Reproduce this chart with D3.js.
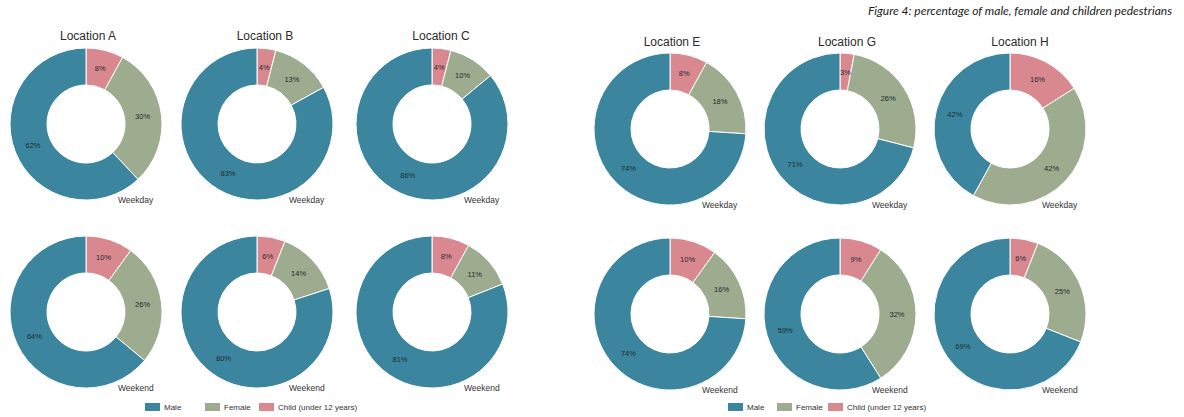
<!DOCTYPE html>
<html>
<head>
<meta charset="utf-8">
<script src="https://cdn.jsdelivr.net/npm/d3@7"></script>
<style>
  html, body { margin: 0; padding: 0; background: #ffffff; }
  svg { display: block; }
</style>
</head>
<body>
<svg id="chart" width="1184" height="417"></svg>
<script>
// Pedestrian composition per location, in percent
const locations = ["Location A", "Location B", "Location C", "Location E", "Location G", "Location H"];
const categories = ["Child (under 12 years)", "Female", "Male"];
const legendOrder = ["Male", "Female", "Child (under 12 years)"];
const periods = ["Weekday", "Weekend"];

const weekdayChild  = [8, 4, 4, 8, 3, 16];
const weekdayFemale = [30, 13, 10, 18, 26, 42];
const weekdayMale   = [62, 83, 86, 74, 71, 42];

const weekendChild  = [10, 6, 8, 10, 9, 6];
const weekendFemale = [26, 14, 11, 16, 32, 25];
const weekendMale   = [64, 80, 81, 74, 59, 69];

const caption = "Figure 4: percentage of male, female and children pedestrians";

// Layout of the two panel groups
const colCenters  = [86, 257, 432, 670, 840, 1010];
const titleCenters = [88, 265, 441, 672, 847, 1020];
const rowCenters = { left: [124, 312], right: [129, 314] };
const titleY = { left: 40, right: 46 };
const outerR = 76, innerR = 39;

const color = d3.scaleOrdinal()
  .domain(categories)
  .range(["#d98890", "#9dab8e", "#3b869e"]);

const svg = d3.select("#chart");

const pie = d3.pie().sort(null).value(d => d.value);
const arc = d3.arc().innerRadius(innerR).outerRadius(outerR);
const labelArc = d3.arc().innerRadius(57).outerRadius(57);

const series = {
  Weekday: [weekdayChild, weekdayFemale, weekdayMale],
  Weekend: [weekendChild, weekendFemale, weekendMale]
};

locations.forEach((loc, i) => {
  const side = i < 3 ? "left" : "right";
  const cx = colCenters[i];

  svg.append("text")
    .attr("x", titleCenters[i])
    .attr("y", titleY[side])
    .attr("text-anchor", "middle")
    .attr("font-family", "Liberation Sans, Arial, sans-serif")
    .attr("font-size", 12)
    .attr("fill", "#2b2b2b")
    .text(loc);

  periods.forEach((period, r) => {
    const cy = rowCenters[side][r];
    const data = categories.map((c, k) => ({ key: c, value: series[period][k][i] }));
    const g = svg.append("g").attr("transform", `translate(${cx},${cy})`);
    const arcs = pie(data);

    g.selectAll("path")
      .data(arcs)
      .join("path")
      .attr("d", arc)
      .attr("fill", d => color(d.data.key))
      .attr("stroke", "#ffffff")
      .attr("stroke-width", 1);

    g.selectAll("text.val")
      .data(arcs)
      .join("text")
      .attr("class", "val")
      .attr("transform", d => `translate(${labelArc.centroid(d)})`)
      .attr("text-anchor", "middle")
      .attr("dy", "0.35em")
      .attr("font-family", "Liberation Sans, Arial, sans-serif")
      .attr("font-size", 7.5)
      .attr("fill", "#1f2a30")
      .text(d => d.data.value + "%");

    g.append("text")
      .attr("x", 32)
      .attr("y", 79)
      .attr("font-family", "Liberation Sans, Arial, sans-serif")
      .attr("font-size", 8.5)
      .attr("fill", "#333333")
      .text(period);
  });
});

// Legends, one under each group
const legendStarts = [145, 728];
const legendSteps = [[0, 60, 114], [0, 49, 100]];
legendStarts.forEach((x0, li) => {
  const lg = svg.append("g").attr("transform", `translate(${x0},407)`);
  legendOrder.forEach((name, k) => {
    const item = lg.append("g").attr("transform", `translate(${legendSteps[li][k]},0)`);
    item.append("rect")
      .attr("x", 0).attr("y", -4)
      .attr("width", 15).attr("height", 8)
      .attr("fill", color(name));
    item.append("text")
      .attr("x", 19).attr("y", 3)
      .attr("font-family", "Liberation Sans, Arial, sans-serif")
      .attr("font-size", 8)
      .attr("fill", "#333333")
      .text(name);
  });
});

svg.append("text")
  .attr("x", 1172)
  .attr("y", 15)
  .attr("text-anchor", "end")
  .attr("font-family", "Lato, sans-serif")
  .attr("font-style", "italic")
  .attr("font-size", 12)
  .attr("fill", "#1a1a1a")
  .text(caption);
</script>
</body>
</html>
